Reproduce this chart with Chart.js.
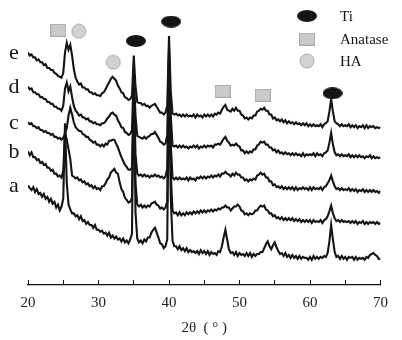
<!DOCTYPE html>
<html>
<head>
<meta charset="utf-8">
<script src="https://cdn.jsdelivr.net/npm/chart.js@4.4.1/dist/chart.umd.min.js"></script>
<style>
  html, body { margin: 0; padding: 0; background: #fff; }
</style>
</head>
<body>
<canvas id="xrd" width="402" height="340"></canvas>
<script>
// scan grid, 20..70 deg in 0.25 deg steps
const twoTheta = [];
for (let t = 20; t <= 70.001; t += 0.25) twoTheta.push(+t.toFixed(2));

const sampleLabels = ['a', 'b', 'c', 'd', 'e'];

// intensities (a.u., offset per sample)
const curveA = [
  103,100,98,101, 96,99,94,95, 91,94,89,91, 86,89,84,86, 80,83,77,81,
  89,167,105,83, 78,74,74,71, 72,68,71,66, 67,63,65,62, 62,59,62,57,
  57,55,56,53, 54,51,54,49, 51,48,50,47, 48,45,48,44, 46,43,47,53,
  225,75,48,44, 46,43,47,45, 49,49,54,57, 59,54,49,43, 42,38,40,47,
  235,90,46,40, 40,37,40,36, 38,35,38,34, 36,34,35,33, 35,32,36,33,
  35,32,35,31, 34,32,33,31, 35,34,40,49, 57,47,37,33, 34,31,34,30,
  33,31,32,30, 33,30,33,29, 32,30,32,32, 34,34,38,42, 45,40,37,41,
  44,39,35,32, 33,30,33,29, 31,28,31,28, 30,27,30,27, 29,28,28,26,
  29,26,30,27, 29,27,29,28, 30,29,33,45, 62,47,34,29, 30,27,30,27,
  29,26,29,28, 29,26,29,26, 28,27,28,26, 29,28,31,32, 33,31,30,27,
  27
];
const curveB = [
  138,134,137,132, 132,129,130,126, 127,124,125,121, 121,118,119,115, 115,112,113,111,
  118,158,150,140, 130,113,112,110, 111,108,109,106, 107,104,105,102, 103,100,102,99,
  100,98,102,102, 105,109,111,116, 118,120,116,115, 106,99,96,90, 88,85,86,90,
  200,105,83,81, 83,80,82,80, 82,81,84,85, 86,83,82,79, 80,78,80,86,
  225,115,77,74, 75,72,75,72, 74,72,75,73, 75,73,76,74, 76,74,77,75,
  77,75,77,76, 78,76,78,77, 79,78,80,80, 82,80,80,77, 79,81,81,83,
  81,77,76,73, 74,72,74,73, 74,77,77,80, 82,81,82,78, 77,74,74,71,
  72,69,70,68, 70,67,69,67, 69,67,69,66, 68,66,68,65, 67,65,67,65,
  67,64,67,65, 66,65,67,64, 67,68,71,76, 82,74,69,66, 67,65,67,65,
  66,65,66,64, 66,64,66,63, 65,64,66,63, 65,63,65,64, 65,63,65,63,
  64
];
const curveC = [
  168,166,167,164, 164,162,163,160, 160,158,159,157, 157,155,156,153, 153,151,152,150,
  152,156,162,175, 183,176,168,163, 161,159,159,156, 155,153,153,150, 149,147,148,145,
  145,143,145,143, 146,145,149,149, 150,150,146,142, 137,132,128,124, 122,119,119,121,
  210,135,115,113, 114,112,114,112, 113,111,113,112, 114,112,113,111, 112,110,112,120,
  235,145,111,109, 111,109,111,109, 110,109,111,108, 111,109,110,108, 111,110,112,110,
  112,110,112,111, 113,111,113,112, 114,112,115,115, 117,115,114,112, 115,113,116,114,
  114,111,111,108, 109,107,109,108, 110,109,113,114, 116,114,115,111, 111,107,107,103,
  104,101,102,100, 102,99,101,99, 101,99,101,98, 101,98,100,99, 101,99,100,98,
  101,98,101,99, 100,99,101,98, 101,102,105,108, 113,107,102,99, 100,98,100,98,
  99,98,100,97, 99,97,99,96, 98,97,99,96, 98,96,98,96, 98,96,97,95,
  97
];
const curveD = [
  205,202,203,199, 199,197,197,194, 194,192,192,189, 189,187,187,184, 184,182,182,180,
  185,203,209,200, 205,194,185,180, 178,175,176,173, 173,171,172,169, 169,167,168,166,
  166,165,167,167, 169,172,174,177, 178,176,175,170, 167,163,162,158, 157,155,156,160,
  220,175,154,153, 152,151,153,151, 153,154,156,156, 158,155,152,148, 147,145,146,155,
  245,175,144,143, 144,142,144,142, 144,142,143,141, 143,142,144,142, 144,141,143,142,
  144,142,144,143, 144,142,145,145, 146,145,148,151, 153,149,147,144, 145,144,146,144,
  143,139,139,136, 138,136,138,137, 140,140,144,145, 148,147,148,145, 145,142,142,139,
  140,137,139,136, 137,135,137,135, 136,134,136,134, 136,134,135,133, 136,133,135,134,
  135,134,136,133, 136,134,135,133, 136,137,139,147, 157,145,137,134, 135,133,135,133,
  134,133,135,132, 134,132,134,132, 134,132,133,131, 133,132,134,131, 133,131,132,131,
  132
];
const curveE = [
  240,237,238,235, 235,232,233,230, 230,227,228,224, 224,222,222,219, 218,216,215,214,
  219,240,250,243, 248,237,223,214, 210,207,208,204, 204,202,202,199, 199,197,198,196,
  196,195,198,199, 202,206,209,213, 215,213,211,206, 203,199,198,194, 193,191,192,195,
  237,205,189,188, 188,186,187,185, 185,183,185,186, 187,184,181,178, 178,176,178,185,
  257,200,177,176, 177,175,176,174, 176,174,176,174, 175,174,176,173, 176,174,175,173,
  176,174,176,174, 176,174,177,176, 178,177,181,184, 186,181,180,179, 182,180,183,180,
  180,176,175,172, 173,171,173,172, 175,175,179,180, 182,181,183,180, 180,176,176,172,
  173,170,171,169, 171,168,170,167, 169,167,168,166, 168,166,167,165, 167,165,167,164,
  166,164,166,164, 165,164,166,163, 166,167,169,179, 192,179,169,167, 166,164,166,164,
  165,164,166,163, 165,163,165,162, 164,163,165,162, 165,162,164,163, 164,162,163,162,
  163
];
const curves = [curveA, curveB, curveC, curveD, curveE];

// phase markers placed above the peaks [2theta, height]
const tiMarks = [[35.3, 252], [40.3, 272], [63.2, 198]];
const anataseMarks = [[24.3, 263], [47.6, 200], [53.3, 196]];
const haMarks = [[27.2, 262], [32.1, 230]];
const phaseNames = ['Ti', 'Anatase', 'HA'];

function makeSymbol(kind) {
    const c = document.createElement('canvas');
    const g = c.getContext('2d');
    if (kind === 'Ti') {
        c.width = 20; c.height = 12;
        g.fillStyle = '#141414';
        g.beginPath();
        g.ellipse(10, 6, 10, 6, 0, 0, Math.PI * 2);
        g.fill();
    } else if (kind === 'Anatase') {
        c.width = 16; c.height = 13;
        g.fillStyle = '#cacaca';
        g.strokeStyle = '#aaaaaa';
        g.fillRect(0.5, 0.5, 15, 12);
        g.strokeRect(0.5, 0.5, 15, 12);
    } else {
        c.width = 16; c.height = 16;
        g.fillStyle = '#d2d2d2';
        g.strokeStyle = '#a8a8a8';
        g.beginPath();
        g.arc(8, 8, 7, 0, Math.PI * 2);
        g.fill();
        g.stroke();
    }
    return c;
}
const symbols = {
    Ti: makeSymbol('Ti'),
    Anatase: makeSymbol('Anatase'),
    HA: makeSymbol('HA')
};

const toPoints = arr => arr.map(p => ({ x: p[0], y: p[1] }));

const datasets = [
    { label: 'Ti', data: toPoints(tiMarks), pointStyle: symbols.Ti },
    { label: 'Anatase', data: toPoints(anataseMarks), pointStyle: symbols.Anatase },
    { label: 'HA', data: toPoints(haMarks), pointStyle: symbols.HA }
].map(d => Object.assign(d, { showLine: false, pointRadius: 8, order: 0 }));

curves.forEach((c, i) => {
    datasets.push({
        label: sampleLabels[i],
        data: c.map((v, k) => ({ x: twoTheta[k], y: v })),
        borderColor: '#141414',
        borderWidth: 2.1,
        pointRadius: 0,
        tension: 0,
        order: 1
    });
});

// sample letters and the phase key
const overlay = {
    id: 'overlay',
    afterDatasetsDraw(chart) {
        const ctx = chart.ctx;
        const y = chart.scales.y;
        ctx.save();
        ctx.fillStyle = '#161616';
        ctx.font = '22px "Liberation Serif"';
        ctx.textAlign = 'center';
        ctx.textBaseline = 'middle';
        curves.forEach((c, i) => {
            ctx.fillText(sampleLabels[i], 14, y.getPixelForValue(c[0]) + 1);
        });

        const keyY = [16, 39, 61];
        ctx.font = '15px "Liberation Serif"';
        ctx.textAlign = 'left';
        phaseNames.forEach((name, i) => {
            const s = symbols[name];
            ctx.drawImage(s, 307 - s.width / 2, keyY[i] - s.height / 2);
            ctx.fillText(name, 340, keyY[i] + 1);
        });
        ctx.restore();
    }
};

const chart = new Chart(document.getElementById('xrd').getContext('2d'), {
    type: 'line',
    data: { datasets: datasets },
    options: {
        responsive: false,
        animation: false,
        devicePixelRatio: 1,
        layout: { padding: { left: 28, right: 14, top: 0, bottom: 0 } },
        plugins: {
            legend: { display: false },
            tooltip: { enabled: false }
        },
        scales: {
            x: {
                type: 'linear',
                min: 20,
                max: 70,
                afterFit: function(scale) { scale.height = 55; },
                border: { display: true, color: '#111', width: 1.2 },
                grid: { drawOnChartArea: false, tickLength: -5, color: '#111', lineWidth: 1 },
                ticks: {
                    stepSize: 5,
                    padding: 14,
                    color: '#222',
                    font: { family: 'Liberation Serif', size: 15 },
                    callback: v => (v % 10 === 0 ? String(v) : '')
                },
                title: {
                    display: true,
                    text: '2θ  ( ° )',
                    color: '#222',
                    font: { family: 'Liberation Serif', size: 15 },
                    padding: { top: 4, bottom: 3 }
                }
            },
            y: {
                display: false,
                min: 0,
                max: 285
            }
        }
    },
    plugins: [overlay]
});
</script>
</body>
</html>
